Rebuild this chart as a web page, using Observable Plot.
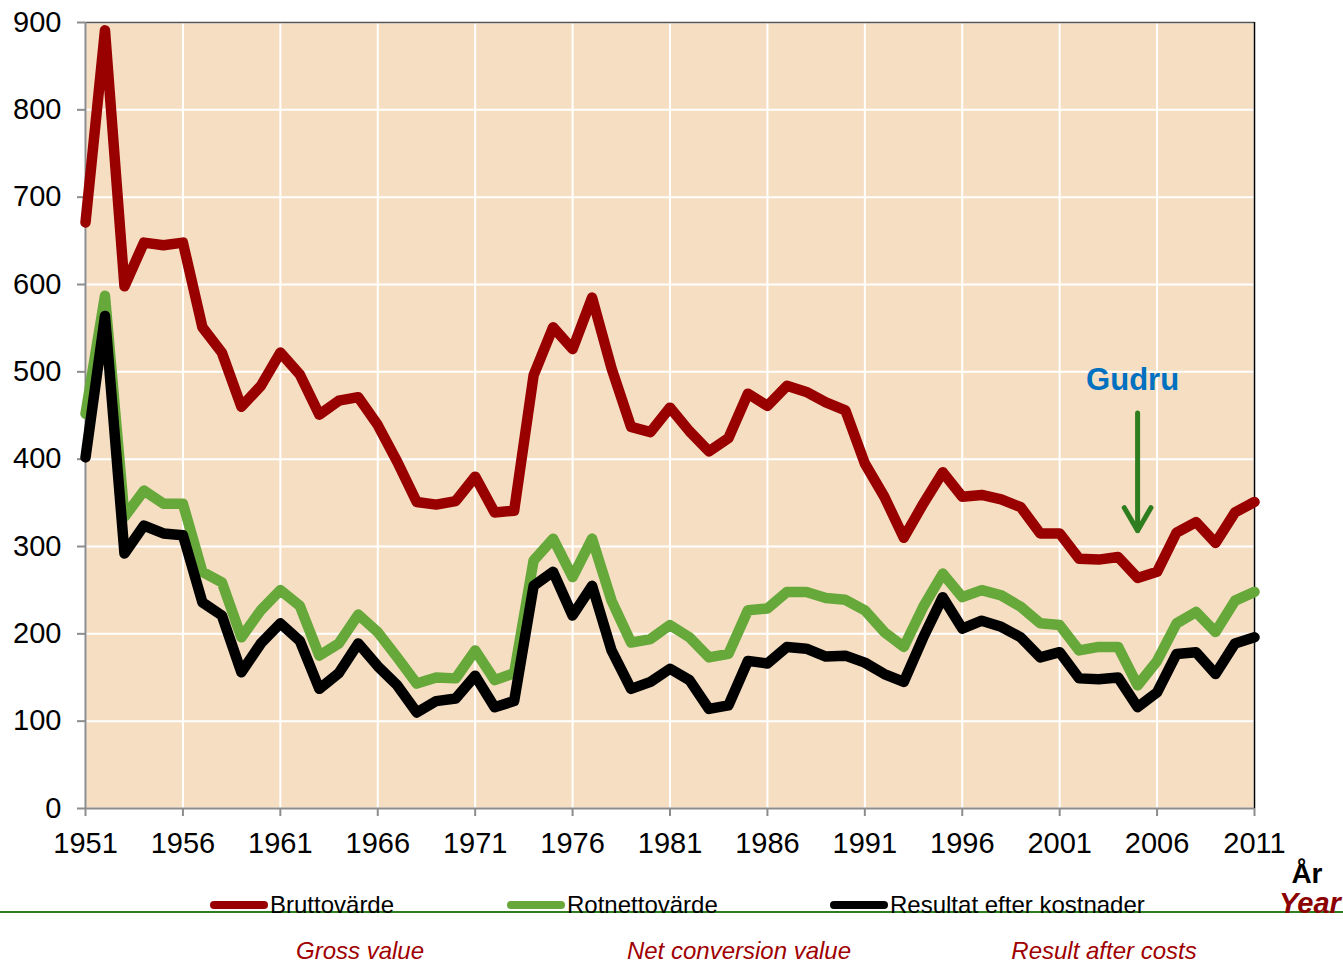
<!DOCTYPE html>
<html>
<head>
<meta charset="utf-8">
<script src="https://cdn.jsdelivr.net/npm/d3@7"></script>
<script src="https://cdn.jsdelivr.net/npm/@observablehq/plot@0.6"></script>
<style>
  html, body { margin: 0; padding: 0; background: #fff; }
  #wrap { position: relative; width: 1343px; height: 964px; font-family: "Liberation Sans", Arial, sans-serif; overflow: hidden; }
  .leg { position: absolute; top: 890px; height: 30px; display: flex; align-items: center; font-size: 24px; color: #000; white-space: nowrap; }
  .sw { width: 58px; height: 8px; border-radius: 4px; margin-right: 2px; }
  .en { position: absolute; top: 937px; font-size: 24px; font-style: italic; color: #A00000; white-space: nowrap; transform: translateX(-50%); }
  #gline { position: absolute; left: 0; top: 911px; width: 1343px; height: 2px; background: #2E7D1E; }
  #year { position: absolute; left: 1279px; top: 887px; font-size: 29px; font-weight: bold; font-style: italic; color: #8B0000; }
</style>
</head>
<body>
<div id="wrap"></div>
<script>
const years = [1951,1952,1953,1954,1955,1956,1957,1958,1959,1960,
  1961,1962,1963,1964,1965,1966,1967,1968,1969,1970,
  1971,1972,1973,1974,1975,1976,1977,1978,1979,1980,
  1981,1982,1983,1984,1985,1986,1987,1988,1989,1990,
  1991,1992,1993,1994,1995,1996,1997,1998,1999,2000,
  2001,2002,2003,2004,2005,2006,2007,2008,2009,2010,2011];

const bruttovarde = [671,891,598,648,645,648,551,522,460,484,
  522,497,451,467,471,439,397,351,348,352,
  380,339,341,496,551,526,585,504,437,431,
  459,432,409,424,475,461,484,477,465,456,
  395,357,310,349,385,357,359,354,345,315,
  315,286,285,288,264,271,316,328,304,339,351];

const rotnettovarde = [452,587,334,364,349,349,271,259,196,227,
  250,232,175,189,222,202,173,143,150,149,
  181,147,155,284,309,265,309,238,190,194,
  210,196,173,177,227,229,248,248,241,239,
  227,202,185,231,269,242,250,244,231,212,
  210,181,185,185,141,169,212,225,202,238,248];

const resultat = [402,564,292,324,315,313,236,221,156,189,
  212,192,137,155,189,163,141,110,123,126,
  152,116,123,255,271,221,255,181,137,145,
  160,147,114,118,169,166,185,183,174,175,
  167,154,145,196,242,206,215,208,196,173,
  179,149,148,150,116,133,177,179,154,189,196];

const seriesNames = ["Bruttovärde", "Rotnettovärde", "Resultat efter kostnader"];
const seriesEnglish = ["Gross value", "Net conversion value", "Result after costs"];
const seriesColors = ["#990000", "#66A83A", "#000000"];

const xTicks = [1951,1956,1961,1966,1971,1976,1981,1986,1991,1996,2001,2006,2011];
const yTicks = [0,100,200,300,400,500,600,700,800,900];

const annotationText = ["Gudru"];
const annotationYear = [2005];
const annotationTextY = [490];
const arrowFrom = [453];
const arrowTo = [318];

const axisTitle = "År";
const axisTitleEn = "Year";

const allSeries = [bruttovarde, rotnettovarde, resultat];
const data = allSeries.flatMap((vals, si) =>
  vals.map((v, i) => ({year: years[i], value: v, series: seriesNames[si]})));

const lineMarks = seriesNames.map((name, si) =>
  Plot.line(data.filter(d => d.series === name), {
    x: "year", y: "value", stroke: seriesColors[si], strokeWidth: 10.5,
    strokeLinejoin: "round", strokeLinecap: "round"
  }));

const ann = annotationText.map((t, i) => ({text: t, x: annotationYear[i], y: annotationTextY[i], y1: arrowFrom[i], y2: arrowTo[i]}));

const chart = Plot.plot({
  width: 1343,
  height: 880,
  marginLeft: 85,
  marginRight: 89,
  marginTop: 22,
  marginBottom: 72,
  style: {fontFamily: "'Liberation Sans', Arial, sans-serif", fontSize: "29px", background: "transparent", overflow: "visible"},
  x: {domain: [1951, 2011]},
  y: {domain: [0, 900]},
  marks: [
    Plot.frame({fill: "#F6DEC2", stroke: "none"}),
    Plot.gridX(xTicks, {stroke: "white", strokeOpacity: 1, strokeWidth: 2}),
    Plot.gridY(yTicks, {stroke: "white", strokeOpacity: 1, strokeWidth: 2}),
    Plot.ruleY([900], {stroke: "#555", strokeWidth: 1.5}),
    Plot.ruleX([2011], {stroke: "#000", strokeWidth: 1.5}),
    Plot.axisY({ticks: yTicks, tickSize: 8, tickPadding: 16, stroke: "#8c8c8c", strokeWidth: 2, fill: "#000", fontSize: 29, label: null}),
    Plot.axisX({ticks: xTicks, tickSize: 8, tickPadding: 16, tickFormat: "d", stroke: "#8c8c8c", strokeWidth: 2, fill: "#000", fontSize: 29, label: null}),
    Plot.ruleX([1951], {stroke: "#8c8c8c", strokeWidth: 2}),
    Plot.ruleY([0], {stroke: "#8c8c8c", strokeWidth: 2}),
    ...lineMarks,
    Plot.arrow(ann, {x: "x", y1: "y1", y2: "y2", stroke: "#2E7D1E", strokeWidth: 5, headLength: 8, headAngle: 60}),
    Plot.text(ann, {x: "x", y: "y", text: "text", fill: "#0070C0", fontWeight: "bold", fontSize: 31, dx: -5}),
    Plot.text([axisTitle], {frameAnchor: "bottom-right", dx: 68, dy: 74, fontSize: 28, fontWeight: "bold", fill: "#000"})
  ]
});

const wrap = document.getElementById("wrap");
wrap.appendChild(chart);

const gl = document.createElement("div");
gl.id = "gline";
wrap.appendChild(gl);

const legLeft = [210, 507, 830];
seriesNames.forEach((name, i) => {
  const item = document.createElement("div");
  item.className = "leg";
  item.style.left = legLeft[i] + "px";
  const sw = document.createElement("div");
  sw.className = "sw";
  sw.style.background = seriesColors[i];
  const tx = document.createElement("span");
  tx.textContent = name;
  item.appendChild(sw);
  item.appendChild(tx);
  wrap.appendChild(item);
});

const enCenters = [360, 739, 1104];
seriesEnglish.forEach((t, i) => {
  const e = document.createElement("div");
  e.className = "en";
  e.style.left = enCenters[i] + "px";
  e.textContent = t;
  wrap.appendChild(e);
});

const yr = document.createElement("div");
yr.id = "year";
yr.textContent = axisTitleEn;
wrap.appendChild(yr);
</script>
</body>
</html>
